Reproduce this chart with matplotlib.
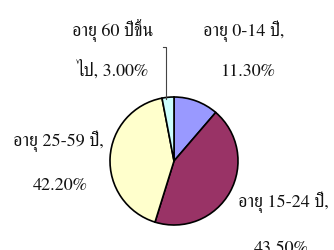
import matplotlib
matplotlib.use("Agg")
import matplotlib.pyplot as plt

# ---- data ----
categories = ["อายุ 0-14 ปี", "อายุ 15-24 ปี", "อายุ 25-59 ปี", "อายุ 60 ปีขึ้นไป"]
values = [11.3, 43.5, 42.2, 3.0]
colors = ["#9999FF", "#993366", "#FFFFCC", "#CCFFFF"]
# label lines (as broken in the reference)
label_lines = [
    ("อายุ 0-14 ปี,", "11.30%"),
    ("อายุ 15-24 ปี,", "43.50%"),
    ("อายุ 25-59 ปี,", "42.20%"),
    ("อายุ 60 ปีขึ้น", "ไป, 3.00%"),
]

W, H = 334, 251
FONT = ["FreeSerif", "Noto Serif Thai", "DejaVu Serif"]

fig = plt.figure(figsize=(W / 100, H / 100), dpi=100)
fig.patch.set_facecolor("white")
ax = fig.add_axes([0, 0, 1, 1])

ax.pie(values, colors=colors, startangle=90, counterclock=False,
       center=(174, H - 162), radius=64,
       wedgeprops=dict(edgecolor="black", linewidth=1.2))
ax.set_xlim(0, W)
ax.set_ylim(0, H)
ax.set_aspect("equal")
ax.axis("off")

# label placement (pixel coords from top-left): (x1, baseline1, x2, baseline2)
label_pos = [
    (244, 35.5, 248, 76),
    (283, 207, 281, 253),
    (58, 145.5, 60, 190),
    (112.5, 35.5, 113, 76),
]
for (l1, l2), (x1, y1, x2, y2) in zip(label_lines, label_pos):
    ax.text(x1, H - y1, l1, ha="center", va="baseline", fontsize=13,
            family=FONT, color="#111111")
    ax.text(x2, H - y2, l2, ha="center", va="baseline", fontsize=13,
            family=FONT, color="#111111")

# leader line for the small slice
ax.plot([166, 166, 163], [H - 100, H - 48, H - 48], color="#444444", lw=0.8)

fig.savefig("out.png", dpi=100)
